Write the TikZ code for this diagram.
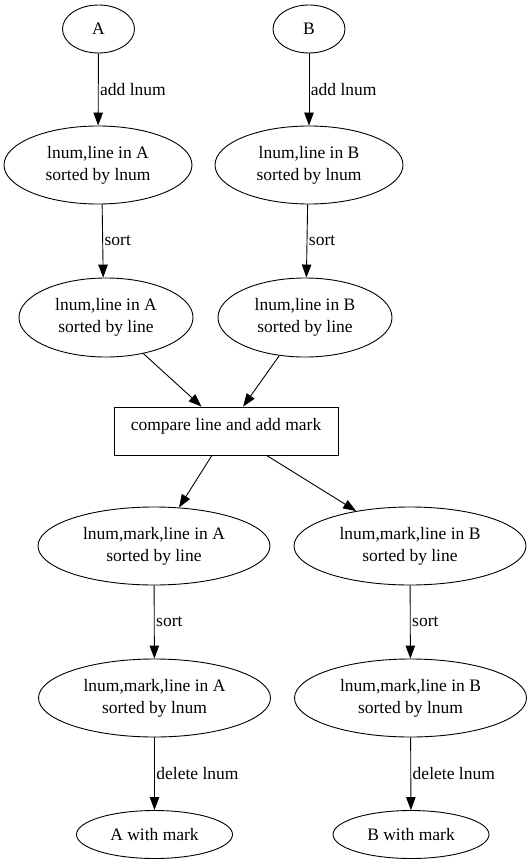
\documentclass[tikz,border=0pt]{standalone}
\usepackage{fontspec}
\setmainfont{Liberation Serif}
\usepackage{tikz}
\usetikzlibrary{arrows.meta,shapes.geometric}
\tikzset{
  record/.style={draw,ellipse,inner sep=0pt,align=center,line width=0.9pt,
    font=\fontsize{17.5}{22}\selectfont},
  process/.style={draw,rectangle,inner sep=0pt,align=center,line width=0.9pt,
    minimum width=224pt,minimum height=48pt,text height=12pt,text depth=14pt,
    font=\fontsize{17.5}{22}\selectfont},
  flow/.style={-{Triangle[length=13pt,width=9.5pt]},line width=0.9pt},
  lbl/.style={anchor=west,inner sep=1.5pt,font=\fontsize{17.5}{22}\selectfont}
}

\begin{document}
\begin{tikzpicture}[x=1pt,y=-1pt]
  \useasboundingbox (0,0) rectangle (532,864);
  % inputs
  \node[record,minimum width=72pt,minimum height=48pt] (A) at (98.5,29) {A};
  \node[record,minimum width=72pt,minimum height=48pt] (B) at (309,29) {B};
  \node[record,minimum width=188pt,minimum height=78pt] (A1) at (98,165) {lnum,line in A\\sorted by lnum};
  \node[record,minimum width=188pt,minimum height=78pt] (B1) at (309,165) {lnum,line in B\\sorted by lnum};
  \node[record,minimum width=174pt,minimum height=79pt] (A2) at (106,317.5) {lnum,line in A\\sorted by line};
  \node[record,minimum width=174pt,minimum height=79pt] (B2) at (305,317.5) {lnum,line in B\\sorted by line};
  % merge step
  \node[process] (cmp) at (226,431) {compare line and add mark};
  % outputs
  \node[record,minimum width=232pt,minimum height=78pt] (A3) at (154,546) {lnum,mark,line in A\\sorted by line};
  \node[record,minimum width=232pt,minimum height=78pt] (B3) at (410,546) {lnum,mark,line in B\\sorted by line};
  \node[record,minimum width=232pt,minimum height=78pt] (A4) at (154.5,698) {lnum,mark,line in A\\sorted by lnum};
  \node[record,minimum width=232pt,minimum height=78pt] (B4) at (410.5,698) {lnum,mark,line in B\\sorted by lnum};
  \node[record,minimum width=156pt,minimum height=48pt] (A5) at (154.5,834.5) {A with mark};
  \node[record,minimum width=156pt,minimum height=48pt] (B5) at (411,834.5) {B with mark};
  \draw[flow] (A) -- node[lbl]{add lnum} (A1);
  \draw[flow] (B) -- node[lbl]{add lnum} (B1);
  \draw[flow] (A1.-84.6) -- node[lbl]{sort} (A2.94.3);
  \draw[flow] (B1.-92) -- node[lbl]{sort} (B2.88.5);
  \draw[flow] (A2.-44.2) -- (cmp.135.4);
  \draw[flow] (B2.-124.7) -- (cmp.55.2);
  \draw[flow] (cmp.-120.8) -- (A3.57.6);
  \draw[flow] (cmp.-31.2) -- (B3.147.6);
  \draw[flow] (A3) -- node[lbl]{sort} (A4);
  \draw[flow] (B3) -- node[lbl]{sort} (B4);
  \draw[flow] (A4) -- node[lbl]{delete lnum} (A5);
  \draw[flow] (B4) -- node[lbl]{delete lnum} (B5);
\end{tikzpicture}
\end{document}
